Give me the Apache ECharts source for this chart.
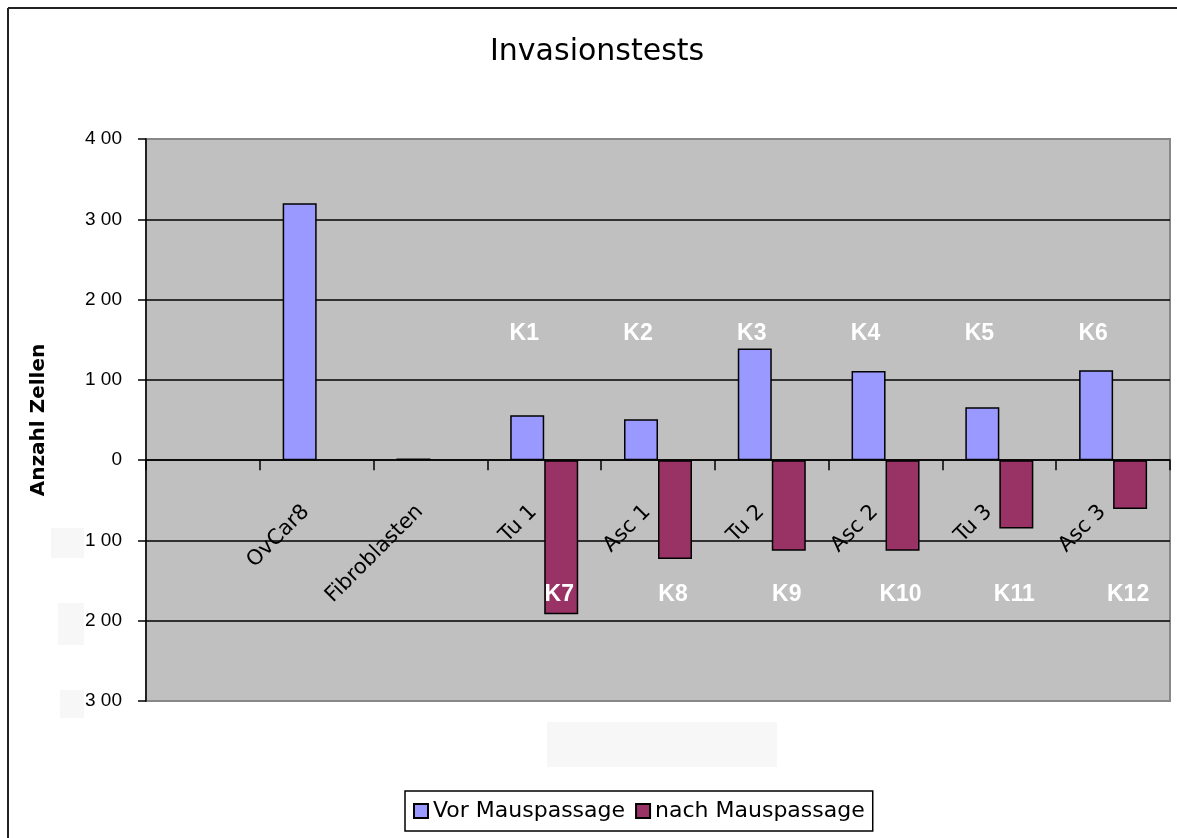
<!DOCTYPE html>
<html><head><meta charset="utf-8">
<script src="https://cdn.jsdelivr.net/npm/echarts@6/dist/echarts.min.js"></script>
<style>html,body{margin:0;padding:0;background:#fff}#c{width:1177px;height:838px}</style>
</head><body><div id="c"></div>
<script>
const categories = ['', 'OvCar8', 'Fibroblasten', 'Tu 1', 'Asc 1', 'Tu 2', 'Asc 2', 'Tu 3', 'Asc 3'];
const vorMauspassage = [null, 320, 2, 56, 51, 139, 111, 66, 112];
const nachMauspassage = [null, null, null, -192, -123, -113, -113, -85, -61];
const yTickValues = [-300, -200, -100, 0, 100, 200, 300, 400];
const yTickLabels = ['3 00', '2 00', '1 00', '0', '1 00', '2 00', '3 00', '4 00'];
const kCategories = ['Tu 1', 'Asc 1', 'Tu 2', 'Asc 2', 'Tu 3', 'Asc 3'];
const topKLabels = ['K1', 'K2', 'K3', 'K4', 'K5', 'K6'];
const bottomKLabels = ['K7', 'K8', 'K9', 'K10', 'K11', 'K12'];
const topKValue = 158;
const bottomKValue = -167;

const chart = echarts.init(document.getElementById('c'), null, {renderer: 'canvas'});
const kLabelStyle = {show: true, color: '#ffffff', fontFamily: 'Liberation Sans', fontWeight: 'bold', fontSize: 23, position: 'inside', opacity: 1};
function kSeries(names, value, offsetX) {
  return {
    type: 'scatter', symbolSize: 1, silent: true, z: 10,
    itemStyle: {color: 'rgba(0,0,0,0)'},
    data: names.map((n, i) => ({name: n, value: [kCategories[i], value]})),
    label: Object.assign({}, kLabelStyle, {formatter: p => p.name, offset: [offsetX, 0]})
  };
}
const option = {
  backgroundColor: '#fff',
  animation: false,
  title: {
    text: 'Invasionstests', left: 490, top: 37, padding: 0,
    textStyle: {fontFamily: 'DejaVu Sans', fontSize: 30, fontWeight: 'normal', color: '#000'}
  },
  legend: {
    data: ['Vor Mauspassage', 'nach Mauspassage'],
    left: 405, top: 791, icon: 'rect', itemWidth: 14, itemHeight: 14, itemGap: 10,
    padding: [9, 8, 9, 8], borderColor: '#000', borderWidth: 1.5, backgroundColor: '#fff',
    textStyle: {fontFamily: 'DejaVu Sans', fontSize: 22, color: '#000'}
  },
  grid: {
    left: 146, right: 7, top: 139, bottom: 137, show: true,
    backgroundColor: '#c0c0c0', borderColor: '#888', borderWidth: 2
  },
  xAxis: {
    type: 'category', data: categories,
    axisLine: {onZero: true, lineStyle: {color: '#000', width: 1.5}},
    axisTick: {show: true, length: 10, lineStyle: {color: '#000', width: 1.5}},
    axisLabel: {rotate: 45, margin: -203, interval: 0, padding: [0, 15, 29, 0],
      fontFamily: 'DejaVu Sans', fontSize: 21, color: '#000'},
    splitLine: {show: false}
  },
  yAxis: {
    type: 'value', min: -300, max: 400, interval: 100,
    name: 'Anzahl Zellen', nameLocation: 'middle', nameGap: 97,
    nameTextStyle: {fontFamily: 'DejaVu Sans', fontWeight: 'bold', fontSize: 20, color: '#000'},
    axisLine: {show: true, lineStyle: {color: '#000', width: 1.5}},
    axisTick: {show: true, length: 8, lineStyle: {color: '#000', width: 1.5}},
    axisLabel: {
      margin: 24, fontFamily: 'Liberation Sans', fontSize: 19, color: '#000',
      formatter: v => { const i = yTickValues.indexOf(v); return i >= 0 ? yTickLabels[i] : ''; }
    },
    splitLine: {show: true, showMinLine: false, showMaxLine: false, lineStyle: {color: '#000', width: 1.5}}
  },
  series: [
    {
      name: 'Vor Mauspassage', type: 'bar', data: vorMauspassage, barWidth: 34, barGap: '0%',
      itemStyle: {color: '#9999ff', borderColor: '#000', borderWidth: 1.5}
    },
    {
      name: 'nach Mauspassage', type: 'bar', data: nachMauspassage, barWidth: 34, barGap: '0%',
      itemStyle: {color: '#993366', borderColor: '#000', borderWidth: 1.5}
    },
    kSeries(topKLabels, topKValue, -20),
    kSeries(bottomKLabels, bottomKValue, 15)
  ],
  graphic: [
    {type: 'line', z: -1, shape: {x1: 8, y1: 8, x2: 1177, y2: 8}, style: {stroke: '#222', lineWidth: 2}},
    {type: 'line', z: -1, shape: {x1: 8, y1: 8, x2: 8, y2: 838}, style: {stroke: '#222', lineWidth: 2}},
    {type: 'rect', shape: {x: 51, y: 528, width: 33, height: 30}, style: {fill: '#f7f7f7'}},
    {type: 'rect', shape: {x: 58, y: 603, width: 26, height: 42}, style: {fill: '#f7f7f7'}},
    {type: 'rect', shape: {x: 60, y: 690, width: 24, height: 28}, style: {fill: '#f7f7f7'}},
    {type: 'rect', shape: {x: 547, y: 722, width: 230, height: 45}, style: {fill: '#f7f7f7'}}
  ]
};
chart.setOption(option);
</script></body></html>
